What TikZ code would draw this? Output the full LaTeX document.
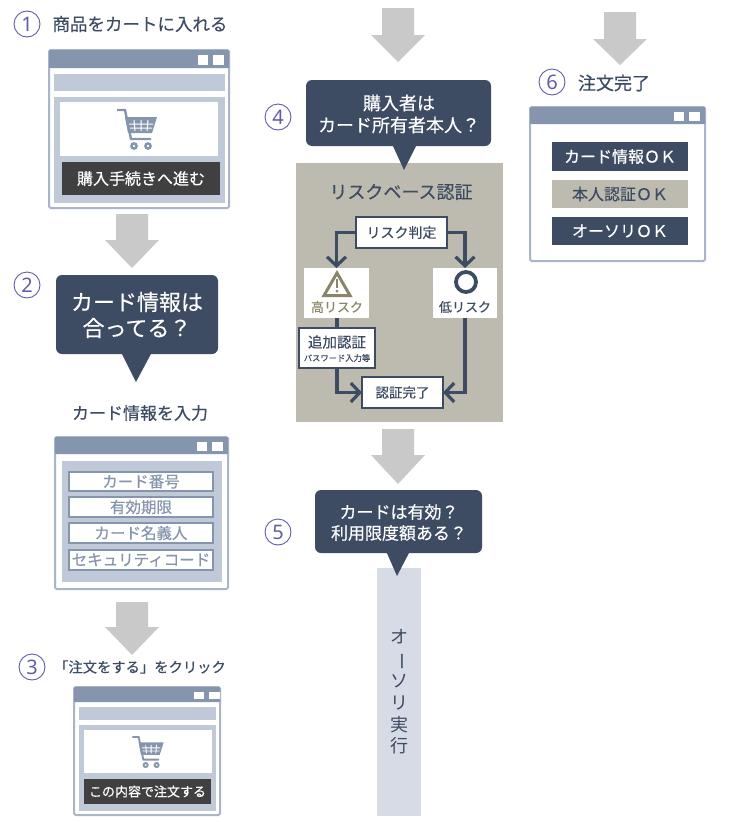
\documentclass[tikz,border=0pt]{standalone}
\usepackage{fontspec}
\usepackage{graphicx}
\setmainfont{Noto Sans CJK JP}
\newfontfamily\medf{Noto Sans CJK JP}[FakeBold=0.35]
\newfontfamily\numfont{Noto Sans}[Scale=1]
\usetikzlibrary{arrows.meta,shapes.geometric}
\definecolor{navy}{HTML}{3D4C63}
\definecolor{slate}{HTML}{8595AE}
\definecolor{pale}{HTML}{C0C9D8}
\definecolor{edge}{HTML}{A9B5C9}
\definecolor{beige}{HTML}{BDBBAF}
\definecolor{olive}{HTML}{8A8468}
\definecolor{blockgray}{HTML}{C9C9C9}
\definecolor{numcol}{HTML}{5F5DAB}
\definecolor{barblue}{HTML}{D6DBE6}
\definecolor{btn}{HTML}{404040}
\newcommand{\fs}[1]{\medf\fontsize{#1}{#1}\selectfont}
\tikzset{
  bx/.style={rectangle,inner sep=0pt,outer sep=0pt},
  numc/.style={circle,draw=numcol,line width=0.9pt,minimum size=26pt,inner sep=0pt,text=numcol,font={\numfont\fontsize{20}{20}\selectfont}},
  lbl/.style={inner sep=0pt,text=navy},
  field/.style={bx,fill=white,draw=slate,line width=1.6pt,text=slate,font=\fs{15.5}},
  risk/.style={bx,fill=white,draw=navy,line width=1.4pt,text=navy},
  riskw/.style={bx,fill=white},
  flow/.style={draw=navy,line width=3.4pt},
  flowa/.style={flow,-{Straight Barb[length=9pt,width=19pt,line width=3.2pt]}},
  okbtn/.style={bx,fill=navy,text=white,font=\fs{16}},
}
% \bxn[style]{name}{x1}{y1}{x2}{y2}{text}
\newcommand{\bxn}[7][]{\node[bx,#1,minimum width={(#5-#3)*1pt},minimum height={(#6-#4)*1pt},align=center] (#2) at ({(#3+#5)/2},{(#4+#6)/2}) {#7};}
% \win[shift of title squares]{x1}{y1}{x2}{y2}{title bottom}
\newcommand{\win}[6][0]{%
  \fill[white,draw=edge,line width=2pt,rounded corners=1.5pt] (#2,#3) rectangle (#4,#5);
  \fill[slate,rounded corners=1pt] (#2,#3) rectangle (#4,#6);
  \fill[white] ({#4-31+#1},{#3+5}) rectangle ({#4-21+#1},{#6-3});
  \fill[white] ({#4-16+#1},{#3+5}) rectangle ({#4-5+#1},{#6-3});
}
% \blockarrow{cx}{top}{head}{tip}
\newcommand{\blockarrow}[4]{\fill[blockgray] ({#1-16},#2) -- ({#1+16},#2) -- ({#1+16},#3) -- ({#1+27},#3) -- (#1,#4) -- ({#1-27},#3) -- ({#1-16},#3) -- cycle;}
% \bubble{x1}{y1}{x2}{y2}{tail x1}{tail x2}{tip x}{tip y}
\newcommand{\bubble}[8]{%
  \fill[navy] (#5,{#4-2}) -- (#6,{#4-2}) -- (#7,#8) -- cycle;
  \fill[navy,rounded corners=6pt] (#1,#2) rectangle (#3,#4);
}
% \cart{cx}{cy}{scale}
\newcommand{\cart}[3]{%
  \begin{scope}[shift={(#1,#2)},scale=#3]
    \draw[slate,line width=#3*2.4pt] (-20,-18) -- (-12,-18) -- (-6,11) -- (14,11);
    \fill[slate] (-12,-11) -- (20,-11) -- (15,5) -- (-9,5) -- cycle;
    \draw[white,line width=#3*1pt] (-3,-8) -- (-2,3) (4,-8) -- (4,3) (11,-8) -- (10,3) (-8,-4) -- (16,-4) (-7,0) -- (15,0);
    \foreach \wx in {-3,11}{\draw[slate,fill=white,line width=#3*2.4pt] (\wx,18) circle (2.6);}
  \end{scope}%
}
\begin{document}
\begin{tikzpicture}[x=1pt,y=-1pt]
\useasboundingbox (0,0) rectangle (732,822);
\fill[white] (0,0) rectangle (732,822);

% ---- step 1
\node[numc] (n1) at (27,24) {1};
\node[lbl,font=\fs{17.5}] (t1) at (140,24) {商品をカートに入れる};
\win{49}{50}{229}{208}{68}
\fill[pale] (54,74) rectangle (225,91);
\fill[pale] (54,97) rectangle (225,203);
\fill[white] (60,102) rectangle (218,156);
\cart{137}{128}{1}
\bxn[fill=btn,text=white,font=\fs{16}]{b1}{62}{162}{220}{195}{購入手続きへ進む}
\blockarrow{132}{214}{240}{268}

% ---- step 2
\node[numc] (n2) at (27,285) {2};
\bubble{56}{275}{218}{354}{121}{152}{136}{382}
\node[inner sep=0pt,text=white,font=\fs{22},align=center] (q2a) at (137,302) {カード情報は};
\node[inner sep=0pt,text=white,font=\fs{22},align=center] (q2b) at (137,328) {合ってる？};
\node[lbl,font=\fs{17}] (t2) at (140,413) {カード情報を入力};
\win{55}{437}{228}{589}{454}
\fill[pale] (62,461) rectangle (222,582);
\bxn[field]{f1}{69}{472}{213}{491}{カード番号}
\bxn[field]{f2}{69}{497}{213}{517}{有効期限}
\bxn[field]{f3}{69}{523}{213}{543}{カード名義人}
\bxn[field,font=\fs{15.5}]{f4}{69}{550}{213}{570}{セキュリティコード}
\blockarrow{132}{602}{627}{655}

% ---- step 3
\node[numc] (n3) at (32,667) {3};
\node[lbl,font=\fs{14.3}] (t3) at (140,667) {「注文をする」をクリック};
\win[5]{74}{687}{220}{815}{702}
\fill[pale] (79,707) rectangle (216,720);
\fill[pale] (79,725) rectangle (216,811);
\fill[white] (84,730) rectangle (212,773);
\cart{148}{751}{0.78}
\bxn[fill=btn,text=white,font=\fs{13}]{b3}{84}{779}{211}{804}{この内容で注文する}

% ---- step 4
\blockarrow{398}{8}{35}{62}
\node[numc] (n4) at (278,117) {4};
\fill[beige] (296,163) rectangle (503,422);
\bubble{306}{80}{491}{146}{392}{417}{404}{170}
\node[inner sep=0pt,text=white,font=\fs{18}] (q4a) at (399,103) {購入者は};
\node[inner sep=0pt,text=white,font=\fs{18}] (q4b) at (399,125) {カード所有者本人？};
\node[lbl,font=\fs{18}] (t4) at (401,192) {リスクベース認証};

\bxn[risk,font=\fs{14}]{judge}{356}{217}{447}{248}{リスク判定}
\bxn[riskw]{high}{304}{268}{369}{318}{}
\bxn[riskw]{low}{433}{268}{497}{318}{}
\node[regular polygon,regular polygon sides=3,draw=olive,line width=3pt,minimum size=30pt,inner sep=0pt,yscale=-1,shape border rotate=180] (warn) at (337,288) {};
\fill[olive] (335.8,279) rectangle (338.2,288);
\fill[olive] (337,291) circle (1.5);
\node[inner sep=0pt,text=olive,font=\fs{13}] (hight) at (337,307) {高リスク};
\node[circle,draw=navy,line width=3.8pt,minimum size=20pt,inner sep=0pt] (ok) at (466,282) {};
\node[inner sep=0pt,text=navy,font=\fs{13}] (lowt) at (465,307) {低リスク};
\bxn[risk]{add}{299}{328}{375}{368}{}
\node[inner sep=0pt,text=navy,font=\fs{14.5}] (addt) at (337,342) {追加認証};
\node[inner sep=0pt,text=navy,font=\fs{8.3}] (adds) at (337,358) {パスワード入力等};
\bxn[risk,font=\fs{13.5}]{done}{362}{377}{443}{408}{認証完了}
\draw[flowa] (judge.west) -| (high.north);
\draw[flowa] (judge.east) -| (low.north);
\draw[flow] (high.south -| add.north) -- (add.north);
\draw[flowa] (add.south) |- (done.west);
\draw[flowa] (low.south) |- (done.east);

% ---- step 5
\blockarrow{398}{429}{455}{484}
\node[numc] (n5) at (278,532) {5};
\fill[barblue] (377,568) rectangle (421,816);
\bubble{315}{490}{482}{553}{386}{410}{397}{576}
\node[inner sep=0pt,text=white,font=\fs{17}] (q5a) at (399,512) {カードは有効？};
\node[inner sep=0pt,text=white,font=\fs{17}] (q5b) at (399,533) {利用限度額ある？};
\node[inner sep=0pt,text=navy,font={\fontsize{18}{21.8}\selectfont},align=center] (auth) at (399,692) {オ\\\rotatebox[origin=c]{-90}{ー}\\ソ\\リ\\実\\行};

% ---- step 6
\blockarrow{620}{12}{39}{65}
\node[numc] (n6) at (552,82) {6};
\node[lbl,font=\fs{18}] (t6) at (614,83) {注文完了};
\win{530}{107}{705}{261}{124}
\bxn[okbtn]{ok1}{552}{142}{688}{171}{カード情報ＯＫ}
\bxn[okbtn,fill=beige,text=navy]{ok2}{552}{180}{688}{208}{本人認証ＯＫ}
\bxn[okbtn]{ok3}{552}{217}{688}{245}{オーソリＯＫ}
\end{tikzpicture}
\end{document}
